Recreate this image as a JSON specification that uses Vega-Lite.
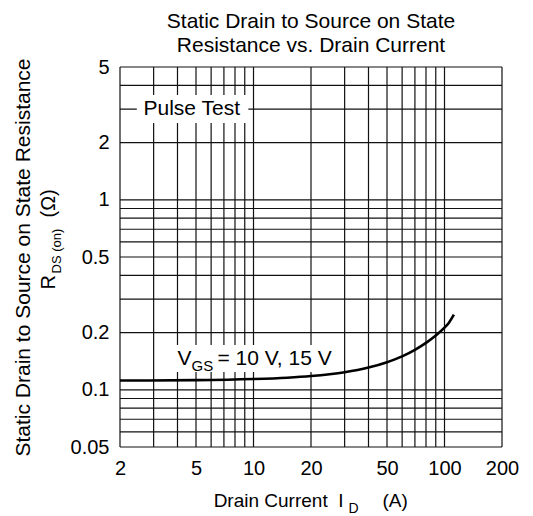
{
  "$schema": "https://vega.github.io/schema/vega-lite/v6.json",
  "width": 382,
  "height": 380,
  "autosize": {"type": "none"},
  "padding": {"left": 120, "top": 67, "right": 31, "bottom": 69},
  "background": "white",
  "config": {"font": "Liberation Sans", "view": {"stroke": null}},
  "title": {
    "text": ["Static Drain to Source on State", "Resistance vs. Drain Current"],
    "fontSize": 21,
    "fontWeight": "normal",
    "color": "black",
    "frame": "group",
    "anchor": "middle",
    "lineHeight": 24,
    "offset": 1
  },
  "datasets": {
    "grid_x": [
      {"current": 2}, {"current": 3}, {"current": 4}, {"current": 5}, {"current": 6},
      {"current": 7}, {"current": 8}, {"current": 9}, {"current": 10}, {"current": 20},
      {"current": 30}, {"current": 40}, {"current": 50}, {"current": 60}, {"current": 70},
      {"current": 80}, {"current": 90}, {"current": 100}, {"current": 200}
    ],
    "grid_y": [
      {"resistance": 0.05}, {"resistance": 0.06}, {"resistance": 0.07}, {"resistance": 0.08},
      {"resistance": 0.09}, {"resistance": 0.1}, {"resistance": 0.2}, {"resistance": 0.3},
      {"resistance": 0.4}, {"resistance": 0.5}, {"resistance": 0.6}, {"resistance": 0.7},
      {"resistance": 0.8}, {"resistance": 0.9}, {"resistance": 1}, {"resistance": 2},
      {"resistance": 3}, {"resistance": 4}, {"resistance": 5}
    ],
    "curve": [
      {"current": 2, "rds_on": 0.1119},
      {"current": 5, "rds_on": 0.1124},
      {"current": 10, "rds_on": 0.1139},
      {"current": 15, "rds_on": 0.1158},
      {"current": 20, "rds_on": 0.1181},
      {"current": 25, "rds_on": 0.1208},
      {"current": 30, "rds_on": 0.1238},
      {"current": 40, "rds_on": 0.131},
      {"current": 50, "rds_on": 0.1398},
      {"current": 60, "rds_on": 0.15},
      {"current": 70, "rds_on": 0.1624},
      {"current": 80, "rds_on": 0.1766},
      {"current": 90, "rds_on": 0.1931},
      {"current": 100, "rds_on": 0.2123},
      {"current": 105, "rds_on": 0.2241},
      {"current": 112, "rds_on": 0.2485}
    ],
    "boxes": [
      {"x0": 2.45, "x1": 9.4, "y0": 2.54, "y1": 3.56},
      {"x0": 3.85, "x1": 28, "y0": 0.124, "y1": 0.172}
    ],
    "notes": [
      {"label": "Pulse Test", "x": 4.75, "y": 3},
      {"label": "V", "x": 4, "y": 0.135},
      {"label": "GS", "x": 4, "y": 0.135},
      {"label": "= 10 V, 15 V", "x": 4, "y": 0.135}
    ]
  },
  "layer": [
    {
      "data": {"name": "grid_x"},
      "mark": {"type": "rule", "color": "#111", "strokeWidth": 1.2},
      "encoding": {
        "x": {
          "field": "current", "type": "quantitative",
          "scale": {"type": "log", "domain": [2, 200], "nice": false},
          "axis": {
            "orient": "bottom", "values": [2, 5, 10, 20, 50, 100, 200], "format": "~g",
            "labelFontSize": 20, "labelColor": "black", "labelPadding": 11,
            "labelFlush": false, "labelOverlap": false,
            "ticks": false, "domain": false, "grid": false,
            "title": "Drain Current\u00a0\u00a0I", "titleFontSize": 19, "titleFontWeight": "normal",
            "titleColor": "black", "titleAlign": "right", "titleBaseline": "alphabetic",
            "titleX": 223, "titleY": 59
          }
        }
      }
    },
    {
      "data": {"name": "grid_y"},
      "mark": {"type": "rule", "color": "#111", "strokeWidth": 1.2},
      "encoding": {
        "y": {
          "field": "resistance", "type": "quantitative",
          "scale": {"type": "log", "domain": [0.05, 5], "nice": false},
          "axis": {
            "orient": "left", "values": [0.05, 0.1, 0.2, 0.5, 1, 2, 5], "format": "~g",
            "labelFontSize": 20, "labelColor": "black", "labelPadding": 11,
            "labelFlush": false, "labelOverlap": false,
            "ticks": false, "domain": false, "grid": false,
            "title": "Static Drain to Source on State Resistance", "titleFontSize": 21,
            "titleFontWeight": "normal", "titleColor": "black", "titleAngle": 270,
            "titleAlign": "center", "titleBaseline": "middle", "titleX": -97, "titleY": 190
          }
        }
      }
    },
    {
      "data": {"name": "boxes"},
      "mark": {"type": "rect", "fill": "white", "opacity": 1},
      "encoding": {
        "x": {
          "field": "x0", "type": "quantitative",
          "scale": {"type": "log", "domain": [2, 200], "nice": false},
          "axis": {
            "orient": "bottom", "labels": false, "ticks": false, "domain": false, "grid": false,
            "title": "D", "titleFontSize": 14, "titleFontWeight": "normal", "titleColor": "black",
            "titleAlign": "left", "titleBaseline": "alphabetic", "titleX": 228, "titleY": 65
          }
        },
        "x2": {"field": "x1"},
        "y": {
          "field": "y0", "type": "quantitative",
          "scale": {"type": "log", "domain": [0.05, 5], "nice": false},
          "axis": {
            "orient": "left", "labels": false, "ticks": false, "domain": false, "grid": false,
            "title": "R", "titleFontSize": 20, "titleFontWeight": "normal", "titleColor": "black",
            "titleAngle": 270, "titleAlign": "left", "titleBaseline": "middle",
            "titleX": -72, "titleY": 222
          }
        },
        "y2": {"field": "y1"}
      }
    },
    {
      "data": {"name": "curve"},
      "mark": {"type": "line", "color": "black", "strokeWidth": 2.6, "interpolate": "monotone"},
      "encoding": {
        "x": {
          "field": "current", "type": "quantitative",
          "scale": {"type": "log", "domain": [2, 200], "nice": false},
          "axis": {
            "orient": "bottom", "labels": false, "ticks": false, "domain": false, "grid": false,
            "title": "(A)", "titleFontSize": 19, "titleFontWeight": "normal", "titleColor": "black",
            "titleAlign": "left", "titleBaseline": "alphabetic", "titleX": 262, "titleY": 59
          }
        },
        "y": {
          "field": "rds_on", "type": "quantitative",
          "scale": {"type": "log", "domain": [0.05, 5], "nice": false},
          "axis": {
            "orient": "left", "labels": false, "ticks": false, "domain": false, "grid": false,
            "title": "DS (on)", "titleFontSize": 13, "titleFontWeight": "normal", "titleColor": "black",
            "titleAngle": 270, "titleAlign": "left", "titleBaseline": "middle",
            "titleX": -64, "titleY": 206
          }
        }
      }
    },
    {
      "data": {"name": "notes"},
      "transform": [{"filter": "datum.label === 'Pulse Test'"}],
      "mark": {"type": "text", "fontSize": 21, "align": "center", "baseline": "middle", "color": "black"},
      "encoding": {
        "x": {"field": "x", "type": "quantitative", "scale": {"type": "log", "domain": [2, 200], "nice": false}, "axis": null},
        "y": {
          "field": "y", "type": "quantitative",
          "scale": {"type": "log", "domain": [0.05, 5], "nice": false},
          "axis": {
            "orient": "left", "labels": false, "ticks": false, "domain": false, "grid": false,
            "title": "(Ω)", "titleFontSize": 20, "titleFontWeight": "normal", "titleColor": "black",
            "titleAngle": 270, "titleAlign": "left", "titleBaseline": "middle",
            "titleX": -72, "titleY": 150
          }
        },
        "text": {"field": "label"}
      }
    },
    {
      "data": {"name": "notes"},
      "transform": [{"filter": "datum.label === 'V'"}],
      "mark": {"type": "text", "fontSize": 21, "align": "left", "baseline": "alphabetic", "color": "black"},
      "encoding": {
        "x": {"field": "x", "type": "quantitative", "scale": {"type": "log", "domain": [2, 200], "nice": false}, "axis": null},
        "y": {"field": "y", "type": "quantitative", "scale": {"type": "log", "domain": [0.05, 5], "nice": false}, "axis": null},
        "text": {"field": "label"}
      }
    },
    {
      "data": {"name": "notes"},
      "transform": [{"filter": "datum.label === 'GS'"}],
      "mark": {"type": "text", "fontSize": 15, "align": "left", "baseline": "alphabetic", "color": "black", "dx": 14, "dy": 6},
      "encoding": {
        "x": {"field": "x", "type": "quantitative", "scale": {"type": "log", "domain": [2, 200], "nice": false}, "axis": null},
        "y": {"field": "y", "type": "quantitative", "scale": {"type": "log", "domain": [0.05, 5], "nice": false}, "axis": null},
        "text": {"field": "label"}
      }
    },
    {
      "data": {"name": "notes"},
      "transform": [{"filter": "datum.label === '= 10 V, 15 V'"}],
      "mark": {"type": "text", "fontSize": 21, "align": "left", "baseline": "alphabetic", "color": "black", "dx": 40},
      "encoding": {
        "x": {"field": "x", "type": "quantitative", "scale": {"type": "log", "domain": [2, 200], "nice": false}, "axis": null},
        "y": {"field": "y", "type": "quantitative", "scale": {"type": "log", "domain": [0.05, 5], "nice": false}, "axis": null},
        "text": {"field": "label"}
      }
    }
  ],
  "resolve": {"axis": {"x": "independent", "y": "independent"}}
}
